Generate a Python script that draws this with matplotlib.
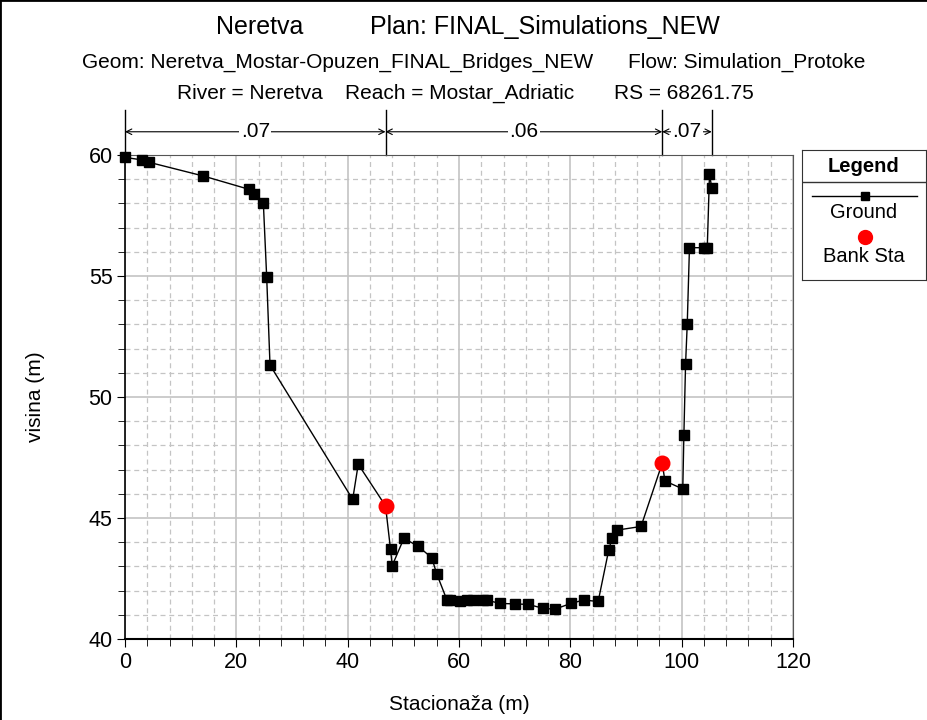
import matplotlib.pyplot as plt
import numpy as np
from matplotlib.patches import Rectangle
from matplotlib.lines import Line2D
from matplotlib.ticker import MultipleLocator

plt.rcParams['font.family'] = ['Liberation Sans', 'DejaVu Sans']

# ground profile (station, elevation)
station = [0.0, 3.0, 4.3, 14.1, 22.3, 23.2, 24.85, 25.45, 26.05, 40.9, 41.9, 46.8,
           47.7, 48.0, 50.1, 52.6, 55.1, 56.0, 57.8, 58.4, 60.2, 61.4, 62.5, 64.3,
           65.0, 67.4, 70.0, 72.4, 75.1, 77.2, 80.1, 82.4, 85.0, 86.9, 87.5, 88.4,
           92.7, 96.5, 97.0, 100.2, 100.4, 100.7, 101.0, 101.4, 104.0, 104.6, 105.0, 105.4]
elev = [59.9, 59.8, 59.7, 59.13, 58.58, 58.39, 58.03, 54.97, 51.32, 45.77, 47.22, 45.5,
        43.7, 43.03, 44.16, 43.84, 43.36, 42.69, 41.63, 41.61, 41.58, 41.6, 41.62, 41.6,
        41.6, 41.47, 41.45, 41.43, 41.27, 41.23, 41.47, 41.61, 41.55, 43.68, 44.17, 44.5,
        44.65, 47.26, 46.53, 46.2, 48.45, 51.36, 53.0, 56.17, 56.17, 56.17, 59.21, 58.65]

bank_sta = [46.8, 96.5]
bank_elev = [45.5, 47.26]

# manning's n regions
n_edges = [0.0, 46.8, 96.5, 105.4]
n_values = ['.07', '.06', '.07']

fig = plt.figure(figsize=(9.28, 7.2), dpi=100)
ax = fig.add_axes([125 / 928, 81 / 720, 668 / 928, 484 / 720])

ax.plot(station, elev, color='black', lw=1, marker='s', ms=6.5, zorder=3, clip_on=False)
ax.plot(bank_sta, bank_elev, ls='none', marker='o', color='#ff0000', ms=10.5, zorder=4)

ax.set_xlim(0, 120)
ax.set_ylim(40, 60)
ax.xaxis.set_major_locator(MultipleLocator(20))
ax.xaxis.set_minor_locator(MultipleLocator(4))
ax.yaxis.set_major_locator(MultipleLocator(5))
ax.yaxis.set_minor_locator(MultipleLocator(1))
ax.grid(which='major', color='#c4c4c4', lw=1.2, ls='-')
ax.grid(which='minor', color='#c4c4c4', lw=0.9, ls=(0, (4, 3)))
ax.set_axisbelow(True)
ax.tick_params(which='both', direction='out', labelsize=15.5, color='black')
ax.tick_params(which='major', length=6, pad=3)
ax.tick_params(which='minor', length=5)
for s in ['top', 'right']:
    ax.spines[s].set_color('#555555')
ax.spines['left'].set_linewidth(1.2)
ax.spines['bottom'].set_linewidth(1.5)

ax.set_xlabel('Stacionaža (m)', fontsize=15, va='center')
ax.xaxis.set_label_coords(0.5, -(705 - 639) / 484)
ax.set_ylabel('visina (m)', fontsize=15, va='center')
ax.yaxis.set_label_coords(-(125 - 35) / 668, 0.5)

# manning's n bars above the plot
tr = ax.get_xaxis_transform()
for xe in n_edges:
    ax.plot([xe, xe], [1.0, 1.093], transform=tr, color='black', lw=1, clip_on=False)
for i, lab in enumerate(n_values):
    x0, x1 = n_edges[i], n_edges[i + 1]
    ax.annotate('', xy=(x1, 1.048), xytext=(x0, 1.048), xycoords=tr, textcoords=tr,
                arrowprops=dict(arrowstyle='<->', lw=0.8, color='black',
                                shrinkA=0, shrinkB=0))
    ax.text((x0 + x1) / 2, 1.048, lab, transform=tr, ha='center', va='center',
            fontsize=15, bbox=dict(facecolor='white', edgecolor='none', pad=1))

# header
def head(x, y, s, size):
    fig.text(x / 928, 1 - y / 720, s, ha='center', va='baseline', fontsize=size)

head(260, 34, 'Neretva', 18)
head(545, 34, 'Plan: FINAL_Simulations_NEW', 18)
head(338, 68, 'Geom: Neretva_Mostar-Opuzen_FINAL_Bridges_NEW', 15)
head(747, 68, 'Flow: Simulation_Protoke', 15)
head(250, 99, 'River = Neretva', 15)
head(460, 99, 'Reach = Mostar_Adriatic', 15)
head(684, 99, 'RS = 68261.75', 15)

# legend box
lax = fig.add_axes([802 / 928, 1 - 280 / 720, 124 / 928, 130 / 720])
lax.set_xlim(0, 1)
lax.set_ylim(0, 1)
lax.set_xticks([])
lax.set_yticks([])
for s in lax.spines.values():
    s.set_color('#333333')
lax.text(0.5, 1 - 16 / 130, 'Legend', ha='center', va='center', fontsize=14.5, fontweight='bold')
lax.add_line(Line2D([0, 1], [1 - 32 / 130] * 2, color='#333333', lw=1))
lax.add_line(Line2D([0.08, 0.93], [1 - 46 / 130] * 2, color='black', lw=1))
lax.plot([0.51], [1 - 46 / 130], marker='s', color='black', ms=6)
lax.text(0.5, 1 - 63 / 130, 'Ground', ha='center', va='center', fontsize=14.5)
lax.plot([0.51], [1 - 87 / 130], marker='o', color='#ff0000', ms=10)
lax.text(0.5, 1 - 107 / 130, 'Bank Sta', ha='center', va='center', fontsize=14.5)

# outer border (bottom edge falls off the canvas)
fig.patches.append(Rectangle((0, -0.01), 1, 1.01, transform=fig.transFigure, fill=False,
                             edgecolor='black', lw=2))

fig.savefig('out.png', dpi=100)
